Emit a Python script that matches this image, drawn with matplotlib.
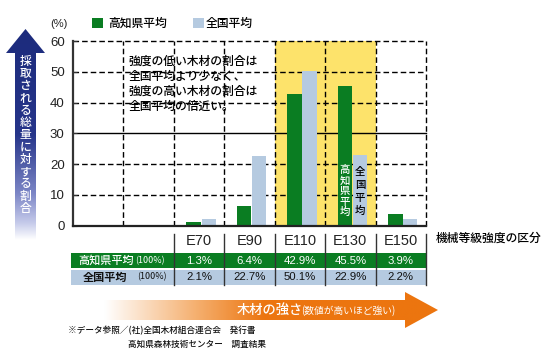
import matplotlib
matplotlib.use('Agg')
import matplotlib.pyplot as plt
import numpy as np
from matplotlib.patches import Rectangle, Polygon
from matplotlib.transforms import blended_transform_factory
from matplotlib.colors import LinearSegmentedColormap

plt.rcParams['font.family'] = ['Liberation Sans', 'Noto Sans CJK JP', 'DejaVu Sans']

# ---------------- data ----------------
categories = ['E70', 'E90', 'E110', 'E130', 'E150']
kochi = [1.3, 6.4, 42.9, 45.5, 3.9]
national = [2.1, 22.7, 50.1, 22.9, 2.2]
kochi_labels = ['1.3%', '6.4%', '42.9%', '45.5%', '3.9%']
national_labels = ['2.1%', '22.7%', '50.1%', '22.9%', '2.2%']
yticks = [0, 10, 20, 30, 40, 50, 60]
series_names = ['高知県平均', '全国平均']
row_suffix = '(100%)'
highlight = ['E110', 'E130']
label_in_bar = 'E130'
note_lines = ['強度の低い木材の割合は', '全国平均より少なく、',
              '強度の高い木材の割合は', '全国平均の倍近い。']
y_title = '採取される総量に対する割合'
x_title = '機械等級強度の区分'
arrow_text = '木材の強さ'
arrow_sub = '(数値が高いほど強い)'
foot1 = '※データ参照／(社)全国木材組合連合会　発行書'
foot2 = '高知県森林技術センター　調査結果'

GREEN = '#0A7D22'
BLUE = '#B5CAE0'
YELLOW = '#FDE36B'
ORANGE = '#EC750F'
NAVY = '#1C2B7C'
JP = ['Noto Sans CJK JP']
JW = 'medium'

W, H = 550, 360
fig = plt.figure(figsize=(5.5, 3.6), dpi=100)
fig.patch.set_facecolor('white')


def fx(px):
    return px / W


def fy(py):
    return 1 - py / H


AX_L, AX_R, AX_T, AX_B = 73, 426, 41, 225.7
ax = fig.add_axes([fx(AX_L), fy(AX_B), fx(AX_R) - fx(AX_L), fy(AX_T) - fy(AX_B)])
ov = fig.add_axes([0, 0, 1, 1], zorder=5)
ov.set_xlim(0, W)
ov.set_ylim(H, 0)
ov.axis('off')
ov.patch.set_alpha(0)

n_empty = 2
ncol = n_empty + len(categories)
xl = np.arange(len(categories)) + n_empty

ax.set_xlim(0, ncol)
ax.set_ylim(0, 60)

# highlight
for c in highlight:
    i = categories.index(c)
    ax.axvspan(xl[i], xl[i] + 1, color=YELLOW, zorder=0, lw=0)

# grid
dash = (0, (4, 2.2))
for y in yticks[1:]:
    ax.axhline(y, color='black', lw=1.0, ls='-' if y == 30 else dash, zorder=1, clip_on=False)
for x in range(1, ncol + 1):
    ax.axvline(x, color='black', lw=1.0, ls=dash, zorder=1, clip_on=False)

# bars
ax.bar(xl + 0.25, kochi, width=0.285, align='edge', color=GREEN, zorder=2, lw=0)
ax.bar(xl + 0.55, national, width=0.28, align='edge', color=BLUE, zorder=2, lw=0)

for s in ['top', 'right']:
    ax.spines[s].set_visible(False)
ax.spines['left'].set_color('#333333')
ax.spines['left'].set_linewidth(1.6)
ax.spines['bottom'].set_color('#222222')
ax.spines['bottom'].set_linewidth(1.6)
ax.spines['left'].set_zorder(3)
ax.spines['bottom'].set_zorder(3)

ax.set_yticks(yticks)
ax.set_yticklabels([str(v) for v in yticks], fontsize=9.5, color='#222222')
ax.tick_params(axis='y', direction='in', length=3, width=0.8, pad=6, color='#333333')
ax.set_xticks(xl + 0.5)
ax.set_xticklabels(categories, fontsize=10.5, color='#222222')
ax.tick_params(axis='x', length=0, pad=6)

# vertical labels inside E130 bars
bt = blended_transform_factory(ax.transData, ov.transData)
j = categories.index(label_in_bar)
for k, ch in enumerate(series_names[0]):
    ov.text(xl[j] + 0.3925, 170 + k * 10.6, ch, transform=bt, ha='center', va='center',
            fontsize=7.5, color='white', family=JP, weight=JW)
for k, ch in enumerate(series_names[1]):
    ov.text(xl[j] + 0.69, 172 + k * 13, ch, transform=bt, ha='center', va='center',
            fontsize=7.5, color='black', family=JP, weight=JW)

# legend
ov.add_patch(Rectangle((92, 18), 11, 10, color=GREEN, lw=0))
ov.text(108, 23, series_names[0], fontsize=8.5, va='center', ha='left', family=JP, weight=JW)
ov.add_patch(Rectangle((193, 18), 11, 10, color=BLUE, lw=0))
ov.text(206, 23, series_names[1], fontsize=8.5, va='center', ha='left', family=JP, weight=JW)
ov.text(50, 24, '(%)', fontsize=8, va='center', ha='left', color='#222222')

# note text
for k, line in enumerate(note_lines):
    ov.text(129, 61 + k * 15, line, fontsize=8.5, va='center', ha='left', family=JP, weight=JW)

# x title
ov.text(436, 238, x_title, fontsize=8.5, va='center', ha='left', family=JP, weight=JW)

# table
r1_top, r1_h = 253, 15
r2_top, r2_h = 269.5, 15
ov.add_patch(Rectangle((-0.04, r1_top), ncol + 0.04, r1_h, transform=bt, color=GREEN, lw=0))
ov.add_patch(Rectangle((-0.04, r2_top), ncol + 0.04, r2_h, transform=bt, color=BLUE, lw=0))
for i in range(len(categories)):
    ov.text(xl[i] + 0.5, r1_top + r1_h / 2, kochi_labels[i], transform=bt, ha='center', va='center',
            fontsize=8.2, color='white')
    ov.text(xl[i] + 0.5, r2_top + r2_h / 2, national_labels[i], transform=bt, ha='center', va='center',
            fontsize=8.2, color='#111111')
for x in range(n_empty, ncol + 1):
    ov.plot([x, x], [234, 285], transform=bt, color='#333333', lw=1.0)
ov.text(78, r1_top + r1_h / 2, series_names[0], fontsize=8, color='white', va='center', ha='left',
        family=JP, weight=JW)
ov.text(135, r1_top + r1_h / 2, row_suffix, fontsize=6.5, color='white', va='center', ha='left',
        family=JP)
ov.text(83, r2_top + r2_h / 2, series_names[1], fontsize=8, color='#111111', va='center', ha='left',
        family=JP, weight='bold')
ov.text(137, r2_top + r2_h / 2, row_suffix, fontsize=6.5, color='#111111', va='center', ha='left',
        family=JP)

# left gradient arrow
left_arrow = Polygon([(15, 240), (15, 53), (6, 53), (25.5, 29), (45, 53), (36, 53), (36, 240)],
                     closed=True, lw=0, facecolor='none')
ov.add_patch(left_arrow)
cmap_v = LinearSegmentedColormap.from_list('v', [(0, NAVY), (0.5, '#26358A'), (0.78, '#7C86C6'),
                                                  (0.92, '#C5CAEA'), (1, '#FFFFFF')])
grad_v = np.linspace(0, 1, 256).reshape(-1, 1)
im = ov.imshow(grad_v, cmap=cmap_v, extent=(5, 46, 240, 29), aspect='auto', zorder=1,
               interpolation='bilinear')
im.set_clip_path(left_arrow)
ov.set_xlim(0, W)
ov.set_ylim(H, 0)
for k, ch in enumerate(y_title):
    ov.text(25.5, 61 + k * 12.3, ch, fontsize=8.5, color='white', ha='center', va='center',
            family=JP, weight=JW, zorder=3)

# bottom orange arrow
orange_arrow = Polygon([(75, 300), (405, 300), (405, 292), (438, 310), (405, 328), (405, 320), (75, 320)],
                       closed=True, lw=0, facecolor='none')
ov.add_patch(orange_arrow)
cmap_h = LinearSegmentedColormap.from_list('h', [(0, '#FFFFFF'), (0.08, '#FFFFFF'), (0.33, '#F5B070'),
                                                  (0.52, ORANGE), (1, ORANGE)])
grad_h = np.linspace(0, 1, 256).reshape(1, -1)
im2 = ov.imshow(grad_h, cmap=cmap_h, extent=(75, 440, 330, 290), aspect='auto', zorder=1,
                interpolation='bilinear')
im2.set_clip_path(orange_arrow)
ov.set_xlim(0, W)
ov.set_ylim(H, 0)
ov.text(237, 310, arrow_text, fontsize=9.5, color='white', ha='left', va='center',
        family=JP, weight=JW, zorder=3)
ov.text(301, 311, arrow_sub, fontsize=7, color='white', ha='left', va='center',
        family=JP, zorder=3)

# footnotes
ov.text(68, 331, foot1, fontsize=6.2, color='#111111', ha='left', va='center', family=JP, weight=JW)
ov.text(128, 344, foot2, fontsize=6.2, color='#111111', ha='left', va='center', family=JP, weight=JW)

fig.savefig('out.png', dpi=100, facecolor='white')
